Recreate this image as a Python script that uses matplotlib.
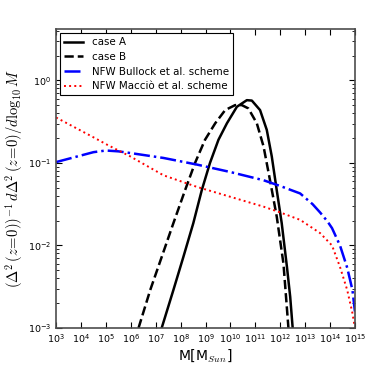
import numpy as np
import matplotlib
matplotlib.use("Agg")
import matplotlib.pyplot as plt
from matplotlib.ticker import LogLocator, NullLocator

plt.rcParams['mathtext.fontset'] = 'cm'

# values, stored as log10(M) and log10(y)
logM_A = [7.24, 7.71, 8.11, 8.51, 8.85, 9.18, 9.52, 9.86, 10.26, 10.66, 10.86,
          11.19, 11.46, 11.66, 11.86, 12.06, 12.27, 12.4, 12.5]
logy_A = [-3.0, -2.54, -2.14, -1.73, -1.33, -1.0, -0.72, -0.52, -0.32, -0.24, -0.245,
          -0.36, -0.6, -0.92, -1.33, -1.73, -2.26, -2.62, -3.0]

logM_B = [6.31, 6.78, 7.24, 7.71, 8.18, 8.58, 8.98, 9.39, 9.79, 10.19, 10.46,
          10.72, 11.06, 11.33, 11.59, 11.86, 12.13, 12.33]
logy_B = [-3.0, -2.54, -2.14, -1.73, -1.33, -1.0, -0.72, -0.52, -0.36, -0.30, -0.30,
          -0.34, -0.52, -0.80, -1.21, -1.65, -2.22, -3.0]

logM_bullock = [3.0, 3.5, 4.0, 4.5, 5.0, 5.5, 5.97, 7.31, 8.65, 9.99, 11.33, 12.0,
                12.8, 13.3, 13.6, 13.9, 14.08, 14.4, 14.69, 14.9, 15.0]
logy_bullock = [-0.99, -0.95, -0.91, -0.87, -0.85, -0.86, -0.88, -0.94, -1.02, -1.11,
                -1.21, -1.28, -1.37, -1.5, -1.6, -1.71, -1.79, -2.0, -2.27, -2.54, -2.8]

logM_maccio = [3.0, 3.5, 4.0, 4.5, 5.05, 5.97, 7.31, 8.65, 9.99, 11.33, 12.0,
               12.8, 13.6, 14.08, 14.4, 14.69, 14.9, 15.0]
logy_maccio = [-0.45, -0.53, -0.61, -0.69, -0.78, -0.92, -1.15, -1.29, -1.41, -1.53,
               -1.6, -1.69, -1.85, -2.0, -2.26, -2.54, -2.82, -3.0]

labels = ['case A', 'case B', 'NFW Bullock et al. scheme', 'NFW Macciò et al. scheme']

fig = plt.figure(figsize=(3.74, 3.74), dpi=100)
ax = fig.add_axes([0.15, 0.123, 0.799, 0.799])

p = lambda v: 10 ** np.array(v)
ax.plot(p(logM_A), p(logy_A), 'k-', lw=1.8, label=labels[0])
ax.plot(p(logM_B), p(logy_B), 'k--', lw=1.8, label=labels[1])
ax.plot(p(logM_bullock), p(logy_bullock), color='blue', ls='-.', lw=1.8, label=labels[2])
ax.plot(p(logM_maccio), p(logy_maccio), color='red', ls=':', lw=1.4, label=labels[3])

ax.set_xscale('log')
ax.set_yscale('log')
ax.set_xlim(1e3, 1e15)
ax.set_ylim(1e-3, 10 ** 0.62)

ax.xaxis.set_major_locator(LogLocator(base=10, numticks=20))
ax.xaxis.set_minor_locator(NullLocator())
ax.yaxis.set_minor_locator(LogLocator(base=10, subs=np.arange(2, 10), numticks=20))
ax.tick_params(which='both', direction='in', top=True, right=True, labelsize=6.8)
ax.tick_params(which='major', length=4)
ax.tick_params(which='minor', length=2)
for s in ax.spines.values():
    s.set_color('0.3')
    s.set_linewidth(1.2)

ax.set_xlabel(r'M[M$_{Sun}$]', fontsize=10, labelpad=1)
ax.set_ylabel(r'$(\Delta^2\,(z\!=\!0))^{-1}\,d\Delta^2\,(z\!=\!0)/d\log_{10}M$', fontsize=10.6, labelpad=2)

leg = ax.legend(loc='upper left', fontsize=7.4, fancybox=False, edgecolor='black',
                framealpha=1, borderaxespad=0.4, handlelength=1.8, handletextpad=0.9,
                labelspacing=0.45, borderpad=0.4)
leg.get_frame().set_linewidth(0.8)

fig.savefig('out.png', dpi=100)
